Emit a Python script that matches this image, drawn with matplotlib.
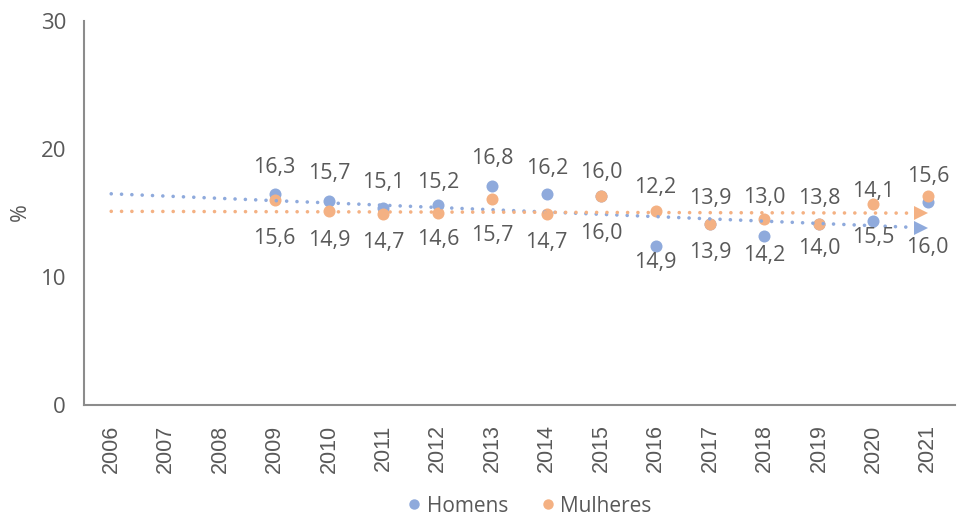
import matplotlib
matplotlib.use("Agg")
import matplotlib.pyplot as plt
from matplotlib.lines import Line2D

# ---------------- data ----------------
years = ["2006", "2007", "2008", "2009", "2010", "2011", "2012", "2013",
         "2014", "2015", "2016", "2017", "2018", "2019", "2020", "2021"]
point_years = ["2009", "2010", "2011", "2012", "2013", "2014", "2015",
               "2016", "2017", "2018", "2019", "2020", "2021"]
homens = [16.5, 15.9, 15.4, 15.6, 17.1, 16.5, 16.3, 12.4, 14.15, 13.2, 14.15, 14.35, 15.85]
mulheres = [16.0, 15.15, 14.95, 15.0, 16.1, 14.95, 16.3, 15.15, 14.15, 14.55, 14.15, 15.7, 16.3]
labels_top = ["16,3", "15,7", "15,1", "15,2", "16,8", "16,2", "16,0",
              "12,2", "13,9", "13,0", "13,8", "14,1", "15,6"]
labels_bottom = ["15,6", "14,9", "14,7", "14,6", "15,7", "14,7", "16,0",
                 "14,9", "13,9", "14,2", "14,0", "15,5", "16,0"]
trend_homens = [16.5, 13.85]
trend_mulheres = [15.13, 14.99]

# label placement (layout only)
label_top_y = [18.55, 18.08, 17.38, 17.38, 19.25, 18.47, 18.16, 16.99, 16.13, 16.21, 16.13, 16.68, 17.85]
label_bottom_y = [13.02, 12.86, 12.70, 12.94, 13.25, 12.70, 13.41, 11.15, 11.92, 11.69, 12.24, 13.09, 12.31]

blue = "#8FAADC"
orange = "#F4B183"
txt = "#595959"
axis_col = "#8C8C8C"

fig = plt.figure(figsize=(9.61, 5.19), dpi=100)
ax = fig.add_axes([84 / 961, (519 - 405) / 519, (955 - 84) / 961, 384 / 519])

xpos = {y: i for i, y in enumerate(years)}
px = [xpos[y] for y in point_years]

ax.scatter(px, homens, s=75, color=blue, zorder=3, linewidths=0)
ax.scatter(px, mulheres, s=75, color=orange, zorder=4, linewidths=0)

trend_x = [0, 14.88]
for tr, col in ((trend_homens, blue), (trend_mulheres, orange)):
    ax.plot(trend_x, tr, color=col, lw=2.6, linestyle=(0, (0.01, 2.85)),
            dash_capstyle="round", zorder=5)
    ax.plot(trend_x[-1:], tr[-1:], marker=">", color=col, markersize=10,
            markeredgewidth=0, linestyle="none", zorder=5)

for x, t, yt, b, yb in zip(px, labels_top, label_top_y, labels_bottom, label_bottom_y):
    ax.text(x, yt, t, ha="center", va="center", fontsize=15.5, color=txt,
            family="Open Sans", zorder=6)
    ax.text(x, yb, b, ha="center", va="center", fontsize=15.5, color=txt,
            family="Open Sans", zorder=6)

ax.set_xlim(-0.5, 15.5)
ax.set_ylim(0, 30)
ax.set_yticks([0, 10, 20, 30])
ax.set_xticks(range(len(years)))
ax.set_xticklabels(years, rotation=90, fontsize=15.5, color=txt, family="Liberation Sans")
for lab in ax.get_yticklabels():
    lab.set_fontsize(16)
    lab.set_color(txt)
    lab.set_family("Open Sans")
ax.tick_params(axis="both", length=0)
ax.tick_params(axis="y", pad=13)
ax.tick_params(axis="x", pad=14)

for s in ("top", "right"):
    ax.spines[s].set_visible(False)
for s in ("left", "bottom"):
    ax.spines[s].set_color(axis_col)
    ax.spines[s].set_linewidth(1.5)

fig.text(20 / 961, 1 - 212 / 519, "%", rotation=90, ha="center", va="center",
         fontsize=15.5, color=txt, family="Open Sans")

handles = [Line2D([], [], marker="o", color=blue, linestyle="none", markersize=7.5, markeredgewidth=0),
           Line2D([], [], marker="o", color=orange, linestyle="none", markersize=7.5, markeredgewidth=0)]
leg = fig.legend(handles, ["Homens", "Mulheres"], loc="center", bbox_to_anchor=(530 / 961, 1 - 506 / 519),
                 ncol=2, frameon=False, handlelength=0.6, handletextpad=0.3, columnspacing=1.6,
                 prop={"family": "Open Sans", "size": 15})
for t in leg.get_texts():
    t.set_color(txt)

fig.savefig("out.png", dpi=100)
